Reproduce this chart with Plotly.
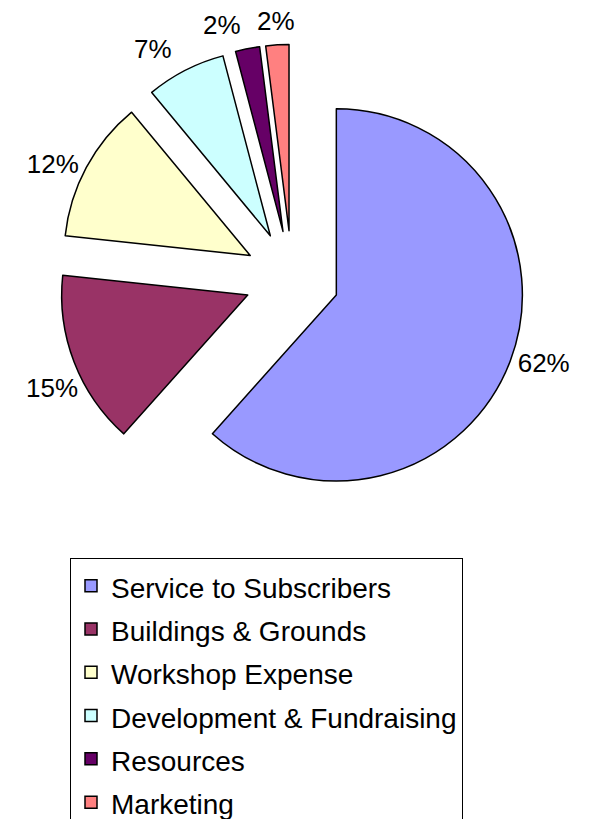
import math
import plotly.graph_objects as go

categories = ["Service to Subscribers", "Buildings & Grounds", "Workshop Expense",
              "Development & Fundraising", "Resources", "Marketing"]
values = [61.6, 15.1, 12.3, 6.9, 2.1, 2.0]
colors = ["#9999FF", "#993366", "#FFFFCC", "#CCFFFF", "#660066", "#FF8080"]

W, H = 592, 819
cx, cy, half = 292, 278, 233.5
pull = 0.255
FONT = "Liberation Sans, Arial"

# labels plotly places itself vs. labels placed beside their slice (as in the source)
positions = ["outside", "none", "outside", "none", "none", "none"]
label_xanchor = [None, "center", None, "right", "right", "center"]
label_yanchor = [None, "top", None, "middle", "middle", "middle"]
legend_labels = ['<span style="font-size:28px">%s</span>' % c for c in categories]

fig = go.Figure(go.Pie(
    labels=legend_labels,
    values=values,
    sort=False,
    direction="clockwise",
    rotation=0,
    pull=[pull] * len(values),
    marker=dict(colors=colors, line=dict(color="black", width=1.5)),
    texttemplate="%{percent:.0%}",
    textposition=positions,
    outsidetextfont=dict(size=26, color="black", family=FONT),
    hovertemplate="%{label}: %{percent:.0%}<extra></extra>",
    automargin=False,
    domain=dict(x=[(cx - half) / W, (cx + half) / W],
                y=[1 - (cy + half) / H, 1 - (cy - half) / H]),
))

total = sum(values)
annotations = []
cum = 0.0
for v, p, xa, ya in zip(values, positions, label_xanchor, label_yanchor):
    mid = (cum + v / 2) / total * 2 * math.pi
    cum += v
    if p != "none":
        continue
    dist = half + 24
    px = cx + dist * math.sin(mid)
    py = cy - dist * math.cos(mid)
    annotations.append(dict(
        x=px / W, y=1 - py / H, xref="paper", yref="paper",
        text="%d%%" % round(v / total * 100), showarrow=False,
        xanchor=xa, yanchor=ya,
        font=dict(size=26, color="black", family=FONT),
    ))

fig.update_layout(
    width=W, height=H,
    margin=dict(l=0, r=0, t=0, b=0, autoexpand=False),
    paper_bgcolor="white",
    font=dict(family=FONT, color="black"),
    annotations=annotations,
    legend=dict(
        x=70 / W, xanchor="left",
        y=1 - 558 / H, yanchor="top",
        font=dict(size=31, color="black", family=FONT),
        bordercolor="black", borderwidth=1,
        bgcolor="white",
        traceorder="normal",
        maxheight=600,
    ),
)

fig.write_html("out.html", config={"displayModeBar": False},
               post_script="document.body.style.margin='0';")
